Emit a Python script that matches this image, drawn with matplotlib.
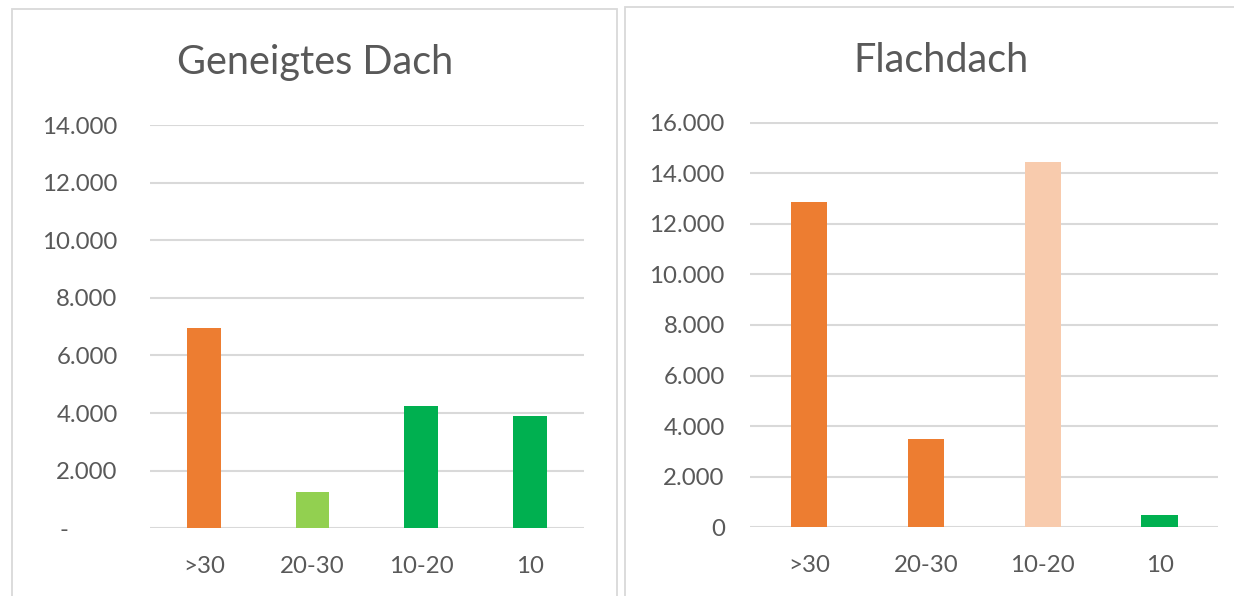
import matplotlib
matplotlib.use("Agg")
import matplotlib.pyplot as plt
from matplotlib.ticker import FuncFormatter, MultipleLocator
from matplotlib.patches import Rectangle

categories = [">30", "20-30", "10-20", "10"]
geneigt_values = [6950, 1250, 4250, 3900]
flach_values = [12850, 3500, 14450, 480]
geneigt_colors = ["#ED7D31", "#92D050", "#00B050", "#00B050"]
flach_colors = ["#ED7D31", "#ED7D31", "#F8CBAD", "#00B050"]
titles = ["Geneigtes Dach", "Flachdach"]

W, H = 1234, 596
fig = plt.figure(figsize=(W / 100, H / 100), dpi=100)
plt.rcParams['font.family'] = ['Lato', 'DejaVu Sans']
TXT = "#595959"
GRID = "#D9D9D9"

# panel frames
fig.patches.append(Rectangle((12 / W, -0.05), (617 - 12) / W, 1.05 - 9.5 / H,
                             transform=fig.transFigure, fill=False, edgecolor="#D9D9D9", lw=1.3))
fig.patches.append(Rectangle((625 / W, -0.05), 0.6, 1.05 - 7 / H,
                             transform=fig.transFigure, fill=False, edgecolor="#D9D9D9", lw=1.3))


def fmt_thousands(zero_dash):
    def f(v, pos):
        if abs(v) < 1e-9:
            return "-        " if zero_dash else "0"
        return f"{int(round(v)):,}".replace(",", ".")
    return f


def make(ax, values, colors, ymax, zero_dash, pad):
    x = range(len(categories))
    ax.bar(x, values, width=0.31, color=colors, zorder=3)
    ax.set_xlim(-0.5, len(categories) - 0.5)
    ax.set_ylim(0, ymax * 1.0008)
    ax.yaxis.set_major_locator(MultipleLocator(2000))
    ax.yaxis.set_major_formatter(FuncFormatter(fmt_thousands(zero_dash)))
    ax.set_xticks(list(x))
    ax.set_xticklabels(categories)
    for s in ax.spines.values():
        s.set_visible(False)
    ax.grid(axis="y", color=GRID, lw=1.5, zorder=0)
    ax.set_axisbelow(True)
    ax.tick_params(axis="both", length=0, colors=TXT, labelsize=17.3)
    ax.tick_params(axis="y", pad=pad)
    ax.tick_params(axis="x", pad=20)


ax1 = fig.add_axes([149.5 / W, 1 - 528.3 / H, 434.5 / W, (528.3 - 124.7) / H])
make(ax1, geneigt_values, geneigt_colors, 14000, True, 23)

ax2 = fig.add_axes([750.4 / W, 1 - 527.2 / H, (1218 - 750.4) / W, (527.2 - 122.4) / H])
make(ax2, flach_values, flach_colors, 16000, False, 18.5)

fig.text(315.3 / W, 1 - 74 / H, titles[0], ha="center", va="baseline", fontsize=28.5, color=TXT)
fig.text(940.7 / W, 1 - 72.2 / H, titles[1], ha="center", va="baseline", fontsize=28.5, color=TXT)

fig.savefig("out.png", dpi=100)
